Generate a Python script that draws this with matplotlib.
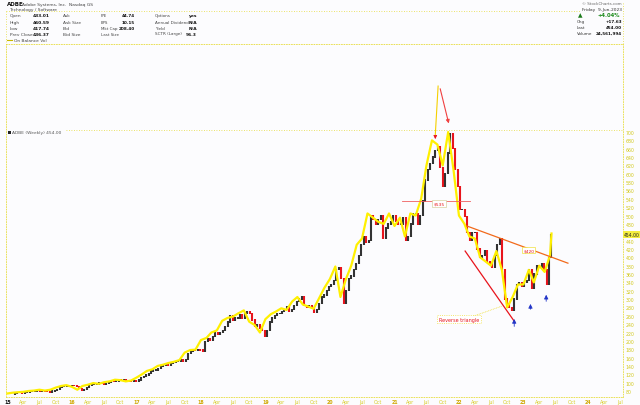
import matplotlib
matplotlib.use('Agg')
import matplotlib.pyplot as plt
import matplotlib.dates as mdates
from matplotlib.lines import Line2D
import numpy as np
import pandas as pd

close_2015 = [72, 74, 77, 76, 75, 76, 77, 78, 79, 80, 81, 80, 82, 80, 79, 77, 80, 81, 84, 88, 90, 91, 92, 93, 94, 93]
close_2016 = [90, 86, 82, 84, 88, 93, 95, 95, 97, 99, 98, 97, 98, 100, 103, 102, 104, 107, 106, 107, 105, 104, 103, 105, 104, 106]
close_2017 = [112, 115, 118, 122, 128, 130, 130, 133, 138, 142, 145, 142, 145, 148, 150, 150, 155, 150, 155, 170, 175, 180, 177, 180, 178, 175]
close_2018 = [198, 205, 200, 210, 220, 215, 220, 225, 235, 245, 260, 250, 255, 255, 262, 255, 265, 270, 265, 250, 235, 240, 230, 225, 210, 225]
close_2019 = [245, 255, 260, 265, 265, 270, 275, 282, 270, 275, 285, 295, 300, 305, 285, 280, 285, 278, 268, 275, 290, 305, 310, 320, 330, 335]
close_2020 = [345, 370, 375, 350, 290, 320, 350, 355, 370, 385, 405, 430, 450, 435, 440, 500, 490, 480, 490, 500, 445, 470, 480, 485, 500, 485]
close_2021 = [480, 480, 495, 440, 450, 480, 505, 505, 480, 500, 535, 585, 610, 625, 640, 655, 665, 615, 570, 600, 650, 695, 660, 610, 570, 515]
close_2022 = [515, 497, 460, 440, 460, 460, 420, 400, 405, 415, 390, 385, 375, 405, 430, 445, 370, 300, 290, 280, 272, 300, 335, 340, 330, 340]
close_2023 = [345, 370, 325, 360, 380, 375, 385, 370, 335, 400, 454]

# on balance volume (millions of shares), monthly
obv_2015 = [-6, -4, -3, -2, 0, 1, 3, 1, 3, 8, 12, 14]
obv_2016 = [10, 3, 12, 15, 19, 17, 21, 23, 27, 26, 23, 25]
obv_2017 = [32, 40, 48, 52, 60, 63, 67, 70, 74, 92, 98, 99]
obv_2018 = [122, 127, 140, 145, 168, 175, 178, 186, 193, 166, 158, 140]
obv_2019 = [172, 184, 190, 198, 194, 214, 225, 207, 202, 197, 222, 247]
obv_2020 = [268, 298, 225, 268, 300, 350, 365, 425, 415, 405, 400, 425]
obv_2021 = [395, 415, 370, 425, 420, 460, 540, 600, 590, 540, 620, 530]
obv_2022 = [420, 400, 370, 365, 320, 310, 300, 335, 290, 200, 225, 255]
obv_2023 = [255, 290, 260, 300, 285, 325, 377]

# drawn annotations
level_535 = 535
level_535_dates = ['2021-02-15', '2022-03-07']
upper_dates, upper_prices = ['2022-02-15', '2023-09-10'], [475, 386]
lower_dates, lower_prices = ['2022-02-05', '2022-11-10'], [415, 247]
apex_date, apex_price = '2021-09-05', 810
top1_date, top1_price = '2021-08-20', 683
top2_date, top2_price = '2021-11-08', 714
blue_dates = ['2022-11-10', '2023-02-10', '2023-05-10']
blue_tips = [259, 295, 317]
blue_tails = [228, 269, 288]
last_price = 454.00

close = close_2015 + close_2016 + close_2017 + close_2018 + close_2019 + close_2020 + close_2021 + close_2022 + close_2023
dates = pd.date_range(end='2023-06-09', periods=len(close), freq='2W-FRI')
obv = obv_2015 + obv_2016 + obv_2017 + obv_2018 + obv_2019 + obv_2020 + obv_2021 + obv_2022 + obv_2023
obv_dates = list(pd.date_range('2015-01-01', '2023-06-01', freq='MS')) + [pd.Timestamp('2023-06-09')]

W, H = 640, 406
bg = '#fcfcfe'
yel = '#e6dc3a'
red = '#e8141c'

fig = plt.figure(figsize=(W / 100, H / 100), dpi=100, facecolor=bg)
rect = [6 / W, 1 - 398 / H, (623 - 6) / W, (398 - 45) / H]
ax = fig.add_axes(rect)
ax.set_facecolor(bg)

d = lambda s: mdates.date2num(pd.Timestamp(s))

# price bars
x = mdates.date2num(dates)
c = np.array(close, dtype=float)
lo = np.minimum(c[:-1], c[1:])
hi = np.maximum(c[:-1], c[1:])
cols = [red if b < a else '#333333' for a, b in zip(c[:-1], c[1:])]
ax.vlines(x[1:], lo - 1.5, hi + 1.5, colors=cols, linewidth=1.5)

# OBV on top, own scale
ax2 = ax.twinx()
ax2.plot(obv_dates, obv, color='#fff000', linewidth=1.6)
ax2.set_ylim(65.6 - 80, 910.7 - 80)
ax2.set_yticks([])
for s in ax2.spines.values():
    s.set_visible(False)

ax.set_ylim(65.6, 910.7)
ax.set_xlim(d('2014-12-24'), d('2024-07-18'))
ax.yaxis.tick_right()
yt = list(range(80, 701, 20))
ax.set_yticks(yt)
ax.set_yticklabels(['' if v == 460 else str(v) for v in yt])
ax.tick_params(axis='y', left=False, right=True, labelleft=False, labelright=True,
               length=0, pad=2, labelsize=3.3, labelcolor='#d2c81a')
qs = pd.date_range('2015-01-01', '2024-07-01', freq='QS')
ax.set_xticks(mdates.date2num(qs))
ax.set_xticklabels([q.strftime('%y') if q.month == 1 else q.strftime('%b') for q in qs])
ax.tick_params(axis='x', length=0, pad=1.2, labelsize=3.4)
for q, lab in zip(qs, ax.get_xticklabels()):
    if q.month == 1:
        lab.set_color('#111111' if q.year == 2015 else '#d0a800')
        lab.set_fontweight('bold')
    else:
        lab.set_color('#d8cc20')
for s in ax.spines.values():
    s.set_linestyle((0, (1, 2)))
    s.set_color(yel)
    s.set_linewidth(0.6)

# annotation layer
ax3 = fig.add_axes(rect, sharex=ax, sharey=ax)
ax3.set_axis_off()
ax3.patch.set_visible(False)

ax3.plot([d(level_535_dates[0]), d(level_535_dates[1])], [level_535] * 2, color='#f06060', lw=0.6)
ax3.text(d('2021-09-10'), level_535 - 6, '$535', color=red, fontsize=3.2, ha='center', va='center',
         bbox=dict(boxstyle='square,pad=0.25', fc='white', ec='#d8d0a0', lw=0.5))
ax3.plot([d(upper_dates[0]), d(upper_dates[1])], upper_prices, color='#f26a1b', lw=0.9)
ax3.plot([d(lower_dates[0]), d(lower_dates[1])], lower_prices, color=red, lw=0.9)

ax3.plot([d(apex_date), d(top1_date)], [apex_price, top1_price + 10], color='#f5d000', lw=0.8)
ax3.annotate('', xy=(d(top1_date), top1_price), xytext=(d(top1_date), top1_price + 12),
             arrowprops=dict(arrowstyle='-|>', color=red, lw=0.6, mutation_scale=5))
ax3.annotate('', xy=(d(top2_date), top2_price), xytext=(d(apex_date) + 8, apex_price),
             arrowprops=dict(arrowstyle='-|>', color='#f04040', lw=0.8, mutation_scale=5))

ax3.text(d('2023-02-01'), 417, '$420', color=red, fontsize=3.2, ha='center', va='center',
         bbox=dict(boxstyle='square,pad=0.25', fc='white', ec='#f0e040', lw=0.5))
ax3.plot([d('2022-03-10'), d('2022-08-31')], [257, 283], color='#f0e040', lw=0.6, ls=(0, (1, 1)))
ax3.text(d('2022-01-01'), 252, 'Reverse triangle', color=red, fontsize=3.5, ha='center', va='center',
         bbox=dict(boxstyle='square,pad=0.35', fc='white', ec='#f0e040', lw=0.6, ls=':'))

for bd, tip, tail in zip(blue_dates, blue_tips, blue_tails):
    ax3.annotate('', xy=(d(bd), tip), xytext=(d(bd), tail),
                 arrowprops=dict(arrowstyle='-|>', color='#2235c8', lw=0.6, mutation_scale=6))

ax3.text(1.002, last_price, '454.00', transform=ax3.get_yaxis_transform(), fontsize=3.3,
         ha='left', va='center', color='#222222',
         bbox=dict(boxstyle='square,pad=0.2', fc='#f4ee40', ec='none'))


def ftext(px, py, s, **kw):
    kw.setdefault('fontsize', 3.2)
    kw.setdefault('va', 'center')
    fig.text(px / W, 1 - py / H, s, **kw)


def fline(xs, ys, **kw):
    fig.add_artist(Line2D([v / W for v in xs], [1 - v / H for v in ys], **kw))


dot = dict(color=yel, lw=0.6, ls=(0, (1, 2)))
fline([6, 580], [12, 12], **dot)
fline([6, 6], [12, 45], **dot)
fline([623, 623], [4, 45], **dot)
fline([66, 623], [131, 131], **dot)

ftext(7, 5, 'ADBE', fontweight='bold', fontsize=4.0, color='#111111')
ftext(22, 5, 'Adobe Systems, Inc.  Nasdaq GS', color='#444444')
ftext(9, 9.5, 'Technology / Software', color='#444444')

rows = [16, 23, 29, 34.5]
col1 = ['Open', 'High', 'Low', 'Prev Close']
val1 = ['433.01', '460.59', '417.74', '436.37']
col2 = ['Ask', 'Ask Size', 'Bid', 'Bid Size']
col3 = ['P/E', 'EPS', 'Mkt Cap', 'Last Size']
val3 = ['44.74', '10.15', '208.40', '']
col4 = ['Options', 'Annual Dividend', 'Yield', 'SCTR (Large)']
val4 = ['yes', 'N/A', 'N/A', '96.3']
for i, yy in enumerate(rows):
    ftext(10, yy, col1[i], color='#444444')
    ftext(50, yy, val1[i], ha='right', fontweight='bold', color='#111111')
    ftext(63, yy, col2[i], color='#444444')
    ftext(101, yy, col3[i], color='#444444', fontsize=2.9)
    ftext(135, yy, val3[i], ha='right', fontweight='bold', color='#111111', fontsize=3.0)
    ftext(155, yy, col4[i], color='#444444', fontsize=3.0)
    ftext(197, yy, val4[i], ha='right', fontweight='bold', color='#111111')

ftext(622, 4, '\u00a9 StockCharts.com', ha='right', fontsize=2.9, color='#666666')
ftext(622, 10, 'Friday  9-Jun-2023', ha='right', color='#333333')
ftext(578, 16, '\u25b2', color='#1a7a1a', fontsize=4.2)
ftext(620, 15.5, '+4.04%', ha='right', color='#1a8a1a', fontweight='bold', fontsize=3.8)
for yy, lab, val in [(22, 'Chg', '+17.63'), (28, 'Last', '454.00'), (34, 'Volume', '24,561,994')]:
    ftext(577, yy, lab, color='#333333', fontsize=3.0)
    ftext(622, yy, val, ha='right', fontweight='bold', color='#111111', fontsize=3.0)

fline([7, 12], [41, 41], color='#c8b800', lw=0.8)
ftext(14, 41, 'On Balance Vol', color='#444444')
fig.patches.append(plt.Rectangle((7.5 / W, 1 - 135 / H), 3 / W, 3 / H, transform=fig.transFigure,
                                 fc='#222222', ec='none'))
ftext(12, 133, 'ADBE (Weekly) 454.00', color='#555555', fontsize=3.2)

fig.savefig('out.png', dpi=100, facecolor=bg)
